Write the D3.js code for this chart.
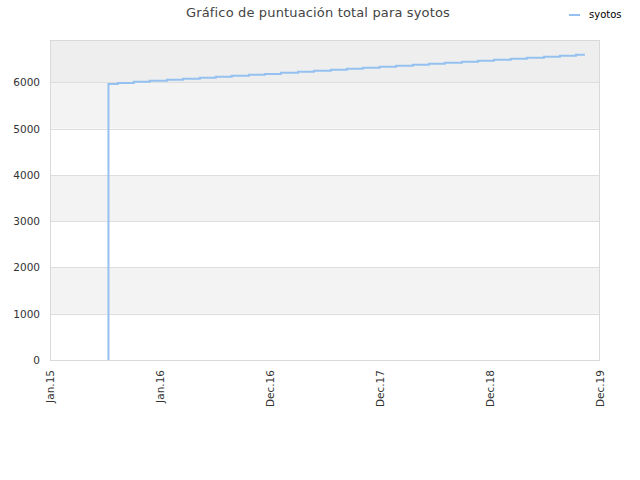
<!DOCTYPE html>
<html lang="es">
<head>
	<meta charset="utf-8">
	<title>Gráfico de puntuación total para syotos</title>
	<script src="https://d3js.org/d3.v7.min.js"></script>
	<style>
		body { margin: 0; background: #fff; }
		text { font-family: "DejaVu Sans", sans-serif; }
	</style>
</head>
<body>
	<script>
	// Chart data
	var seriesName = "syotos";
	var dates = ["2015-07-14", "2015-07-14", "2015-08-14", "2015-10-06", "2015-11-28", "2016-01-24",
		"2016-03-17", "2016-05-12", "2016-07-04", "2016-08-26", "2016-10-22", "2016-12-14",
		"2017-02-05", "2017-04-03", "2017-05-26", "2017-07-21", "2017-09-12", "2017-11-04",
		"2017-12-30", "2018-02-22", "2018-04-19", "2018-06-11", "2018-08-03", "2018-09-29",
		"2018-11-21", "2019-01-13", "2019-03-10", "2019-05-02", "2019-06-28", "2019-08-20",
		"2019-10-12", "2019-11-11"];
	var scores = [0, 5964, 5985, 6013, 6035, 6057,
		6075, 6100, 6121, 6143, 6165, 6182,
		6208, 6229, 6251, 6273, 6294, 6316,
		6337, 6359, 6381, 6402, 6424, 6446,
		6467, 6489, 6510, 6532, 6553, 6575,
		6597, 6597];
	var xTickDates = ["2015-01-01", "2016-01-01", "2016-12-31", "2017-12-31", "2018-12-31", "2019-12-31"];
	var xTickLabels = ["Jan.15", "Jan.16", "Dec.16", "Dec.17", "Dec.18", "Dec.19"];
	var yTicks = [0, 1000, 2000, 3000, 4000, 5000, 6000];
	var yMax = 6914;

	var w = 640, h = 480;
	var plotL = 50, plotR = 600, plotT = 40, plotB = 360;
	var parse = d3.timeParse("%Y-%m-%d");

	var svg = d3.select("body").append("svg")
		.attr("width", w)
		.attr("height", h);

	var x = d3.scaleTime()
		.domain([parse(xTickDates[0]), parse(xTickDates[xTickDates.length - 1])])
		.range([plotL, plotR]);
	var y = d3.scaleLinear()
		.domain([0, yMax])
		.range([plotB, plotT]);

	// background bands
	var bandEdges = yTicks.concat([yMax]);
	for (var i = 0; i < bandEdges.length - 1; i++) {
		var fill = i == bandEdges.length - 2 ? "#eeeeee" : (i % 2 == 1 ? "#f3f3f3" : "#ffffff");
		svg.append("rect")
			.attr("x", plotL)
			.attr("y", y(bandEdges[i + 1]))
			.attr("width", plotR - plotL)
			.attr("height", y(bandEdges[i]) - y(bandEdges[i + 1]))
			.attr("fill", fill);
	}

	// grid lines
	svg.selectAll("line.grid")
		.data(yTicks.slice(1))
		.enter()
		.append("line")
		.attr("class", "grid")
		.attr("x1", plotL)
		.attr("x2", plotR)
		.attr("y1", function(d) { return Math.round(y(d)) + 0.5; })
		.attr("y2", function(d) { return Math.round(y(d)) + 0.5; })
		.attr("stroke", "#dddddd");

	// frame
	svg.append("rect")
		.attr("x", plotL + 0.5)
		.attr("y", plotT + 0.5)
		.attr("width", plotR - plotL - 1)
		.attr("height", plotB - plotT)
		.attr("fill", "none")
		.attr("stroke", "#d9d9d9");

	// y labels
	svg.selectAll("text.ylab")
		.data(yTicks)
		.enter()
		.append("text")
		.attr("class", "ylab")
		.attr("x", 40)
		.attr("y", function(d) { return y(d) + 4; })
		.attr("text-anchor", "end")
		.attr("font-size", "10.5px")
		.attr("fill", "#333")
		.text(function(d) { return d; });

	// x labels, rotated
	svg.selectAll("text.xlab")
		.data(xTickDates)
		.enter()
		.append("text")
		.attr("class", "xlab")
		.attr("text-anchor", "end")
		.attr("font-size", "10.5px")
		.attr("fill", "#333")
		.attr("transform", function(d) { return "translate(" + (x(parse(d)) + 4) + ",370) rotate(-90)"; })
		.text(function(d, i) { return xTickLabels[i]; });

	// the score line
	var points = dates.map(function(d, i) { return { date: parse(d), value: scores[i] }; });
	var line = d3.line()
		.x(function(d) { return x(d.date); })
		.y(function(d) { return y(d.value); })
		.curve(d3.curveStepAfter);
	svg.append("path")
		.datum(points)
		.attr("d", line)
		.attr("fill", "none")
		.attr("stroke", "#94c1ef")
		.attr("stroke-width", 2);

	// title
	svg.append("text")
		.attr("x", 318)
		.attr("y", 17)
		.attr("text-anchor", "middle")
		.attr("font-size", "13px")
		.attr("letter-spacing", "0.15px")
		.attr("fill", "#444")
		.text("Gráfico de puntuación total para " + seriesName);

	// legend
	svg.append("line")
		.attr("x1", 569)
		.attr("x2", 580)
		.attr("y1", 15)
		.attr("y2", 15)
		.attr("stroke", "#94c1ef")
		.attr("stroke-width", 2);
	svg.append("text")
		.attr("x", 589)
		.attr("y", 18)
		.attr("font-size", "10px")
		.attr("fill", "#000")
		.text(seriesName);
	</script>
</body>
</html>
